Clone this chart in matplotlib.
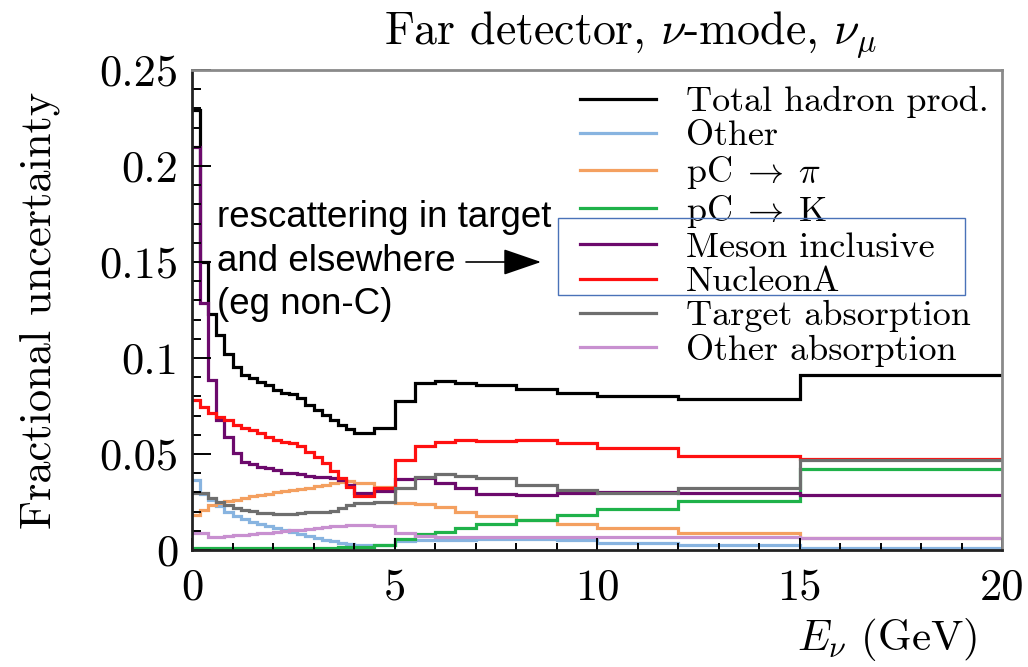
import matplotlib
matplotlib.use("Agg")
import matplotlib.pyplot as plt
from matplotlib.lines import Line2D
from matplotlib.patches import Rectangle

# ------------------------------------------------------------------
# bin edges (GeV) and fractional uncertainty per bin
# ------------------------------------------------------------------
edges = [0.0, 0.2, 0.4, 0.6, 0.8, 1.0, 1.2, 1.4, 1.6, 1.8, 2.0,
         2.2, 2.4, 2.6, 2.8, 3.0, 3.2, 3.4, 3.6, 3.8, 4.0,
         4.5, 5.0, 5.5, 6.0, 6.5, 7.0, 8.0, 9.0, 10.0, 12.0, 15.0, 20.0]

total_hp = [0.229, 0.150, 0.123, 0.112, 0.102, 0.0955, 0.091, 0.0894, 0.0877, 0.0859,
            0.0835, 0.082, 0.0812, 0.079, 0.0757, 0.073, 0.0703, 0.0677, 0.065, 0.0628,
            0.0608, 0.0634, 0.0778, 0.0868, 0.0882, 0.0872, 0.0859, 0.0837, 0.082,
            0.0803, 0.0786, 0.0911]
other = [0.0362, 0.029, 0.026, 0.0228, 0.020, 0.0178, 0.0162, 0.0148, 0.0135, 0.0123,
         0.0112, 0.0102, 0.0093, 0.0082, 0.0072, 0.0062, 0.0053, 0.0045, 0.0037, 0.0031,
         0.0026, 0.0028, 0.0045, 0.005, 0.0052, 0.0053, 0.0055, 0.0055, 0.0052,
         0.0036, 0.0027, 0.0012]
pc_pi = [0.018, 0.021, 0.0232, 0.0245, 0.0255, 0.0263, 0.0271, 0.0279, 0.0286, 0.0293,
         0.030, 0.0306, 0.0312, 0.0318, 0.0325, 0.0333, 0.034, 0.0348, 0.0355, 0.0357,
         0.0347, 0.033, 0.0247, 0.024, 0.0222, 0.020, 0.0177, 0.0156, 0.0135,
         0.0113, 0.0087, 0.0062]
pc_k = [0.0011, 0.0011, 0.0011, 0.0011, 0.0011, 0.0011, 0.0011, 0.0011, 0.0011, 0.0012,
        0.0012, 0.0012, 0.0012, 0.0012, 0.0013, 0.0013, 0.0013, 0.0013, 0.0014, 0.0014,
        0.0015, 0.0028, 0.0055, 0.0085, 0.0095, 0.0113, 0.0135, 0.0156, 0.0182,
        0.0212, 0.0257, 0.042]
meson_incl = [0.210, 0.1285, 0.0885, 0.0677, 0.059, 0.0503, 0.046, 0.0448, 0.0434, 0.0425,
              0.0417, 0.0403, 0.040, 0.0395, 0.0385, 0.0382, 0.0378, 0.0373, 0.0365, 0.0339,
              0.0299, 0.0305, 0.0368, 0.0373, 0.0347, 0.0321, 0.0292, 0.0286, 0.0299,
              0.0304, 0.0299, 0.0286]
nucleon_a = [0.078, 0.0743, 0.0712, 0.0694, 0.0677, 0.0651, 0.0634, 0.0625, 0.0608, 0.059,
             0.0573, 0.0564, 0.0558, 0.0542, 0.0512, 0.0486, 0.0451, 0.0413, 0.0373, 0.033,
             0.0282, 0.0325, 0.0469, 0.0542, 0.0564, 0.0573, 0.0568, 0.0573, 0.0558,
             0.053, 0.049, 0.0472]
target_abs = [0.0295, 0.0295, 0.027, 0.0252, 0.0234, 0.0217, 0.0208, 0.0203, 0.0194, 0.0192,
              0.0187, 0.0188, 0.019, 0.0195, 0.0198, 0.0196, 0.020, 0.0205, 0.0217, 0.0234,
              0.0243, 0.0252, 0.0325, 0.0382, 0.0394, 0.0385, 0.0373, 0.0339, 0.0312,
              0.0298, 0.0321, 0.0468]
other_abs = [0.009, 0.0088, 0.0069, 0.007, 0.0073, 0.0076, 0.008, 0.0083, 0.0087, 0.0091,
             0.0095, 0.0098, 0.0102, 0.0105, 0.0109, 0.0113, 0.0118, 0.0123, 0.0127, 0.013,
             0.013, 0.0125, 0.009, 0.0072, 0.0068, 0.0067, 0.0066, 0.0066, 0.0067,
             0.0068, 0.0069, 0.0063]

labels = ["Total hadron prod.", "Other", r"$\mathrm{pC}\;\rightarrow\;\pi$",
          r"$\mathrm{pC}\;\rightarrow\;\mathrm{K}$", "Meson inclusive", "NucleonA",
          "Target absorption", "Other absorption"]
colors = ["#000000", "#88b4e0", "#f4a060", "#1fb24a", "#6c0a6c", "#ff1010", "#6e6e6e", "#c890d0"]
series = [total_hp, other, pc_pi, pc_k, meson_incl, nucleon_a, target_abs, other_abs]

ytick_vals = [0, 0.05, 0.1, 0.15, 0.2, 0.25]
ytick_labels = ["0", "0.05", "0.1", "0.15", "0.2", "0.25"]
xtick_vals = [0, 5, 10, 15, 20]
xtick_labels = ["0", "5", "10", "15", "20"]

# ------------------------------------------------------------------
# figure
# ------------------------------------------------------------------
plt.rcParams["font.family"] = "cmr10"
plt.rcParams["mathtext.fontset"] = "cm"
plt.rcParams["axes.unicode_minus"] = False

W, H = 1028, 667
fig = plt.figure(figsize=(W / 100, H / 100), dpi=100)
ax = fig.add_axes([192 / W, (H - 550) / H, 810 / W, 480 / H])

for vals, col in zip(series, colors):
    ax.stairs(vals, edges, baseline=None, color=col, lw=2.3)

ax.set_xlim(0, 20)
ax.set_ylim(0, 0.25)
ax.set_yticks(ytick_vals)
ax.set_yticklabels(ytick_labels)
ax.set_xticks(xtick_vals)
ax.set_xticklabels(xtick_labels)
ax.set_xticks(range(0, 21), minor=True)
ax.set_yticks([i * 0.01 for i in range(26)], minor=True)
ax.tick_params(axis="both", which="both", direction="in", width=1.4, labelsize=32)
ax.tick_params(axis="y", which="major", length=14, pad=10)
ax.tick_params(axis="y", which="minor", length=6.5)
ax.tick_params(axis="x", which="major", length=9, pad=13)
ax.tick_params(axis="x", which="minor", length=5)

for side in ["left", "bottom"]:
    ax.spines[side].set_color("#222222")
    ax.spines[side].set_linewidth(2)
for side in ["top", "right"]:
    ax.spines[side].set_color("#8a8a8a")
    ax.spines[side].set_linewidth(2)

ax.set_ylabel("Fractional uncertainty", fontsize=32)
ax.yaxis.set_label_coords(-0.163, 0.5)
ax.set_xlabel(r"$E_\nu$ (GeV)", fontsize=31, loc="right")
ax.xaxis.set_label_coords((977 - 192) / 810, (550 - 616) / 480)

fig.text(630 / W, (H - 35) / H, r"Far detector, $\nu$-mode, $\nu_\mu$",
         ha="center", va="center", fontsize=33)

# legend with plain line handles
handles = [Line2D([], [], color=c, lw=2.3) for c in colors]
ax.legend(handles, labels, loc="upper left", bbox_to_anchor=(580 / W, (H - 86) / H),
          bbox_transform=fig.transFigure, frameon=False, fontsize=26, borderpad=0,
          borderaxespad=0, handlelength=2.1, handletextpad=0.83, labelspacing=0.05)

# note about rescattering, pointing at the boxed entries
fig.text(217 / W, (H - 200) / H, "rescattering in target\nand elsewhere\n(eg non-C)",
         family="Liberation Sans", fontsize=26.5, ha="left", va="top", linespacing=1.32)
ax.annotate("", xy=(541 / W, (H - 262) / H), xytext=(466 / W, (H - 262) / H),
            xycoords="figure fraction", textcoords="figure fraction",
            arrowprops=dict(arrowstyle="-|>,head_length=1.6,head_width=0.55",
                            mutation_scale=15, color="black", lw=1.2,
                            shrinkA=0, shrinkB=0))
fig.add_artist(Rectangle((558 / W, (H - 295) / H), (965 - 558) / W, (295 - 218) / H,
                         transform=fig.transFigure, fill=False, ec="#4a72b8", lw=1.0))

fig.savefig("out.png", dpi=100)
